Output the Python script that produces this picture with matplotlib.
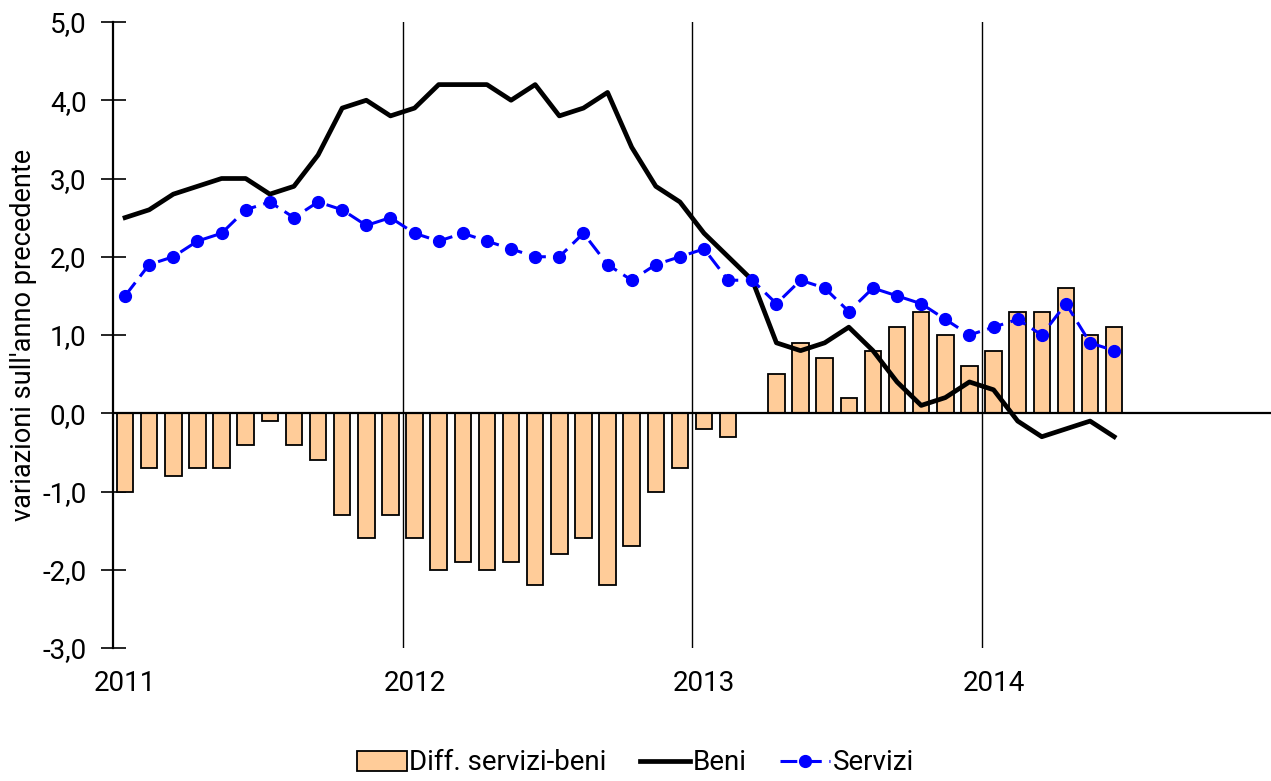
import matplotlib
matplotlib.use("Agg")
import matplotlib.pyplot as plt
from matplotlib.ticker import FuncFormatter, FixedLocator
import numpy as np

plt.rcParams['font.family'] = ['Roboto', 'DejaVu Sans']

beni = [2.5, 2.6, 2.8, 2.9, 3.0, 3.0, 2.8, 2.9, 3.3, 3.9, 4.0, 3.8,
        3.9, 4.2, 4.2, 4.2, 4.0, 4.2, 3.8, 3.9, 4.1, 3.4, 2.9, 2.7,
        2.3, 2.0, 1.7, 0.9, 0.8, 0.9, 1.1, 0.8, 0.4, 0.1, 0.2, 0.4,
        0.3, -0.1, -0.3, -0.2, -0.1, -0.3]
servizi = [1.5, 1.9, 2.0, 2.2, 2.3, 2.6, 2.7, 2.5, 2.7, 2.6, 2.4, 2.5,
           2.3, 2.2, 2.3, 2.2, 2.1, 2.0, 2.0, 2.3, 1.9, 1.7, 1.9, 2.0,
           2.1, 1.7, 1.7, 1.4, 1.7, 1.6, 1.3, 1.6, 1.5, 1.4, 1.2, 1.0,
           1.1, 1.2, 1.0, 1.4, 0.9, 0.8]
diff = [-1.0, -0.7, -0.8, -0.7, -0.7, -0.4, -0.1, -0.4, -0.6, -1.3, -1.6, -1.3,
        -1.6, -2.0, -1.9, -2.0, -1.9, -2.2, -1.8, -1.6, -2.2, -1.7, -1.0, -0.7,
        -0.2, -0.3, 0.0, 0.5, 0.9, 0.7, 0.2, 0.8, 1.1, 1.3, 1.0, 0.6,
        0.8, 1.3, 1.3, 1.6, 1.0, 1.1]
years = ['2011', '2012', '2013', '2014']

fig = plt.figure(figsize=(12.71, 7.81), dpi=100)
ax = fig.add_axes([113/1271, 1 - 648/781, (1271 - 113)/1271, (648 - 22)/781])

x = np.arange(len(beni)) + 0.5

hb = ax.bar(x, diff, width=0.68, color='#FFCC99', edgecolor='black', linewidth=1.3,
            label='Diff. servizi-beni', zorder=2)
for k in range(1, len(years)):
    ax.axvline(12 * k, color='black', linewidth=1.0, zorder=1)
ax.axhline(0, color='black', linewidth=1.6, zorder=3)
hl1, = ax.plot(x, beni, color='black', linewidth=3.4, label='Beni', zorder=4)
hl2, = ax.plot(x, servizi, color='#0000FF', linewidth=2.2, linestyle=(0, (5.5, 2.5)),
               marker='o', markersize=8.5, label='Servizi', zorder=5)

ax.set_xlim(0, 48)
ax.set_ylim(-3, 5)
ax.yaxis.set_major_locator(FixedLocator(np.arange(-3, 5.01, 1.0)))
ax.yaxis.set_major_formatter(FuncFormatter(lambda v, p: f"{v:.1f}".replace('.', ',')))
ax.set_xticks([12 * i + 0.5 for i in range(len(years))])
ax.set_xticklabels(years)
ax.tick_params(axis='x', length=0, labelsize=20, pad=16)
ax.tick_params(axis='y', direction='inout', length=18, width=1.2, labelsize=20, pad=10)

for s in ['top', 'right', 'bottom']:
    ax.spines[s].set_visible(False)
ax.spines['left'].set_linewidth(1.6)

ax.set_ylabel("variazioni sull'anno precedente", fontsize=19.5, labelpad=4)

fig.legend([hb, hl1, hl2], ['Diff. servizi-beni', 'Beni', 'Servizi'],
           loc='center', bbox_to_anchor=(0.5, 1 - 763/781), ncol=3, frameon=False,
           fontsize=20, handlelength=1.8, handletextpad=0.1, columnspacing=1.2)

fig.savefig('out.png', dpi=100)
